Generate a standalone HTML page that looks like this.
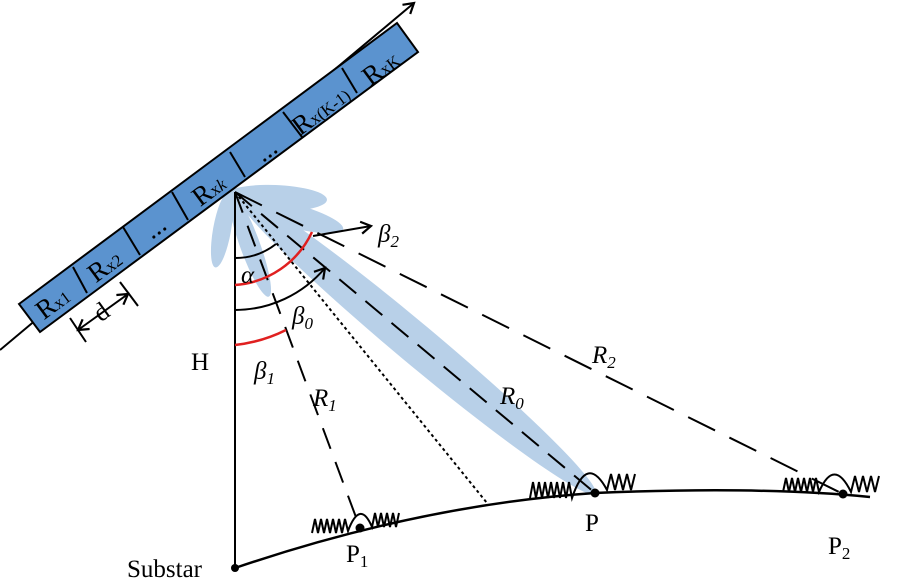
<!DOCTYPE html>
<html><head><meta charset="utf-8"><style>
html,body{margin:0;padding:0;background:#fff}
svg{display:block}
text{font-family:"Liberation Serif",serif;fill:#000}
</style></head><body>
<svg width="899" height="578" viewBox="0 0 899 578" xmlns="http://www.w3.org/2000/svg">
<defs>
<marker id="ah" markerWidth="14" markerHeight="14" refX="11" refY="7" orient="auto-start-reverse" markerUnits="userSpaceOnUse">
<path d="M1,1 L11,7 L1,13" fill="none" stroke="#000" stroke-width="2.2"/></marker>
</defs>
<g fill="#b8d0e8">
<ellipse cx="415" cy="343" rx="235" ry="20" transform="rotate(39.9 415 343)"/>
<ellipse cx="275" cy="198" rx="52" ry="13" transform="rotate(2 275 198)"/>
<ellipse cx="290" cy="215" rx="55" ry="12" transform="rotate(15 290 215)"/>
<ellipse cx="222" cy="230" rx="38" ry="9" transform="rotate(100 222 230)"/>
<ellipse cx="250" cy="245" rx="55" ry="10" transform="rotate(70 250 245)"/>
</g>
<line x1="0" y1="350" x2="414" y2="3" stroke="#000" stroke-width="2" marker-end="url(#ah)"/>
<polygon points="19,304 397,23 418,52 40,332" fill="#5b93cf" stroke="#000" stroke-width="2"/>
<g stroke="#000" stroke-width="2">
<line x1="73" y1="267" x2="87" y2="293"/>
<line x1="123" y1="227" x2="140" y2="255"/>
<line x1="172" y1="192" x2="188" y2="220"/>
<line x1="230" y1="152" x2="245" y2="177"/>
<line x1="283" y1="112" x2="302" y2="137"/>
<line x1="342" y1="68" x2="357" y2="93"/>
</g>
<g font-size="27">
<text transform="translate(58,310) rotate(-36.5)" text-anchor="middle">R<tspan font-size="17">x1</tspan></text>
<text transform="translate(110,273) rotate(-36.5)" text-anchor="middle">R<tspan font-size="17">x2</tspan></text>
<text transform="translate(160,234) rotate(-36.5)" text-anchor="middle">...</text>
<text transform="translate(214,197) rotate(-36.5)" text-anchor="middle">R<tspan font-size="17">x<tspan font-style="italic">k</tspan></tspan></text>
<text transform="translate(271,157) rotate(-36.5)" text-anchor="middle">...</text>
<text transform="translate(326,117) rotate(-36.5)" text-anchor="middle">R<tspan font-size="17">x(K-1)</tspan></text>
<text transform="translate(386,75) rotate(-36.5)" text-anchor="middle">R<tspan font-size="17">xK</tspan></text>
</g>
<g stroke="#000" stroke-width="2" fill="none">
<line x1="70" y1="318" x2="86" y2="342"/>
<line x1="120" y1="282" x2="138" y2="306"/>
<line x1="78" y1="330" x2="128" y2="294" marker-start="url(#ah)" marker-end="url(#ah)"/>
</g>
<text x="95" y="320" font-size="26" transform="rotate(-36 102 312)">d</text>
<line x1="235" y1="192" x2="235" y2="568" stroke="#000" stroke-width="2"/>
<path d="M235,568 Q420,505 595,493 Q760,486 870,497" fill="none" stroke="#000" stroke-width="2.5"/>
<g fill="#000"><circle cx="235" cy="568" r="4"/><circle cx="360" cy="528" r="4.5"/><circle cx="595" cy="493" r="4.5"/><circle cx="843" cy="494" r="4.5"/></g>
<g stroke="#000" stroke-width="2" fill="none">
<line x1="235" y1="192" x2="360" y2="528" stroke-dasharray="22,14"/>
<line x1="235" y1="192" x2="595" y2="493" stroke-dasharray="22,12"/>
<line x1="235" y1="192" x2="843" y2="494" stroke-dasharray="30,16"/>
<line x1="235" y1="192" x2="487" y2="503" stroke-dasharray="3,3"/>
</g>
<g fill="none" stroke-width="2">
<path d="M235,258 A66,66 0 0 0 276,244" stroke="#000"/>
<path d="M235,310 A118,118 0 0 0 325,268" stroke="#000" marker-end="url(#ah)"/>
<path d="M235,285 A92,92 0 0 0 312,232" stroke="#e02020" stroke-width="2.5"/>
<path d="M235,345 A150,150 0 0 0 286,330" stroke="#e02020" stroke-width="2.5"/>
<line x1="313" y1="236" x2="371" y2="226" stroke="#000" marker-end="url(#ah)"/>
</g>
<g fill="none" stroke="#000" stroke-width="2">
<path d="M312,533 l3,-14 l3,14 l3,-14 l3,14 l3,-14 l3,14 l3,-14 l3,14 l3,-14 l3,14 l3,-14 l3,12 q12,-32 24,-4 l3,-14 l3,14 l3,-14 l3,14 l3,-14 l3,14 l3,-14 l3,14 l3,-14"/>
<path d="M530,498 l3,-16 l3,16 l3,-16 l3,16 l3,-16 l3,16 l3,-16 l3,16 l3,-16 l3,16 l3,-16 l3,16 l3,-16 l3,16 q15,-45 35,-8 l4,-16 l4,16 l4,-16 l4,16 l4,-16 l4,16 l4,-16"/>
<path d="M783,492 l3,-14 l3,14 l3,-14 l3,14 l3,-14 l3,14 l3,-14 l3,14 l3,-14 l3,14 l3,-14 l3,14 q15,-35 32,0 l4,-16 l4,16 l4,-16 l4,16 l4,-16 l4,16 l4,-16"/>
</g>
<g font-size="25">
<text x="191" y="370">H</text>
<text x="127" y="577">Substar</text>
<text x="346" y="562">P<tspan font-size="17" dy="5">1</tspan></text>
<text x="585" y="531">P</text>
<text x="828" y="554">P<tspan font-size="17" dy="5">2</tspan></text>
<text x="241" y="283" font-style="italic">α</text>
<text x="292" y="324" font-style="italic">β<tspan font-size="17" dy="5">0</tspan></text>
<text x="254" y="379" font-style="italic">β<tspan font-size="17" dy="5">1</tspan></text>
<text x="378" y="242" font-style="italic">β<tspan font-size="17" dy="5">2</tspan></text>
<text x="313" y="406" font-style="italic">R<tspan font-size="17" dy="5">1</tspan></text>
<text x="500" y="404" font-style="italic">R<tspan font-size="17" dy="5">0</tspan></text>
<text x="592" y="363" font-style="italic">R<tspan font-size="17" dy="5">2</tspan></text>
</g>
</svg>
</body></html>
